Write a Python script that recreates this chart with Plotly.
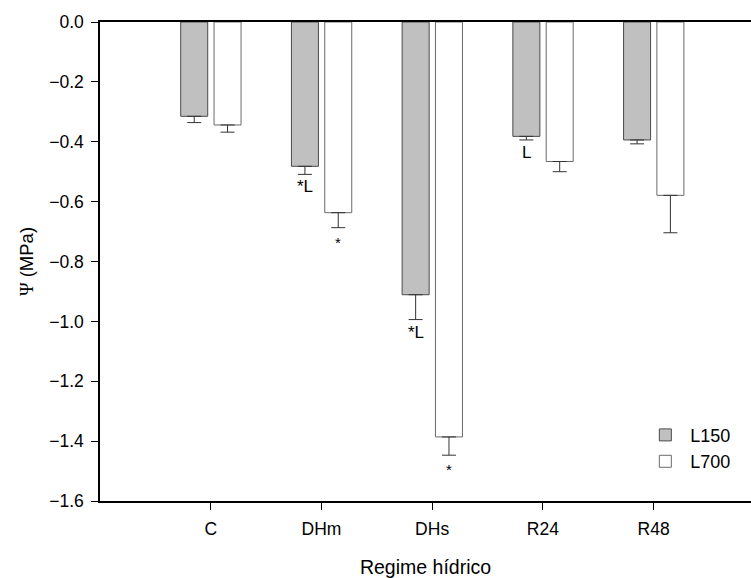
import plotly.graph_objects as go

categories = ["C", "DHm", "DHs", "R24", "R48"]
l150 = [-0.315, -0.482, -0.911, -0.382, -0.394]
l150_err = [0.021, 0.027, 0.083, 0.012, 0.013]
l700 = [-0.344, -0.637, -1.386, -0.466, -0.579]
l700_err = [0.024, 0.050, 0.061, 0.034, 0.125]
l150_marks = ["", "*L", "*L", "L", ""]
l700_marks = ["", "*", "*", "", ""]
y_ticks = [0.0, -0.2, -0.4, -0.6, -0.8, -1.0, -1.2, -1.4, -1.6]

xpos = list(range(len(categories)))
bar_w = 0.244
off150 = -0.271
off700 = 0.030
FONT = "Liberation Sans, Arial, Helvetica, sans-serif"

fig = go.Figure()
fig.add_trace(go.Bar(
    x=xpos, y=l150, name="L150", width=bar_w, offset=off150,
    marker=dict(color="#c0c0c0", line=dict(color="#4a4a4a", width=1)),
    error_y=dict(type="data", array=[0]*5, arrayminus=l150_err, symmetric=False,
                 color="#333333", thickness=1, width=7),
))
fig.add_trace(go.Bar(
    x=xpos, y=l700, name="L700", width=bar_w, offset=off700,
    marker=dict(color="#ffffff", line=dict(color="#6a6a6a", width=1)),
    error_y=dict(type="data", array=[0]*5, arrayminus=l700_err, symmetric=False,
                 color="#333333", thickness=1, width=7),
))

annots = []
for i in xpos:
    if l150_marks[i]:
        annots.append(dict(x=i + off150 + bar_w / 2, y=l150[i] - l150_err[i], text=l150_marks[i],
                           showarrow=False, yanchor="top", yshift=-1,
                           font=dict(family=FONT, size=17, color="black")))
    if l700_marks[i]:
        annots.append(dict(x=i + off700 + bar_w / 2, y=l700[i] - l700_err[i], text=l700_marks[i],
                           showarrow=False, yanchor="top", yshift=-4,
                           font=dict(family=FONT, size=15, color="black")))

fig.update_layout(
    width=751, height=578,
    margin=dict(l=100, r=0, t=22, b=77),
    paper_bgcolor="white", plot_bgcolor="white",
    font=dict(family=FONT, size=17, color="black"),
    showlegend=True,
    legend=dict(x=0.83, y=0.176, xanchor="left", yanchor="top",
                font=dict(size=18), bgcolor="rgba(0,0,0,0)", tracegroupgap=0,
                itemwidth=40),
    annotations=annots,
    xaxis=dict(
        range=[-1, 4.88], tickmode="array", tickvals=xpos, ticktext=categories,
        showline=True, linecolor="black", linewidth=1.5, mirror=True,
        ticks="outside", ticklen=7, tickcolor="black", tickwidth=1,
        ticklabelstandoff=4,
        showgrid=False, zeroline=False,
        tickfont=dict(size=17.5),
        title=dict(text="Regime hídrico", font=dict(size=19.5), standoff=23),
    ),
    yaxis=dict(
        range=[-1.6, 0.0], tickmode="array", tickvals=y_ticks,
        tickformat=".1f",
        showline=True, linecolor="black", linewidth=1.5,
        ticks="outside", ticklen=7, tickcolor="black", tickwidth=1,
        ticklabelstandoff=4,
        showgrid=False, zeroline=False,
        tickfont=dict(size=17.5),
        title=dict(text="<span style=\"font-family:'Liberation Serif', 'Times New Roman', serif\">Ψ</span> (MPa)",
                   font=dict(size=18.5), standoff=11),
    ),
)

fig.write_html("out.html")
